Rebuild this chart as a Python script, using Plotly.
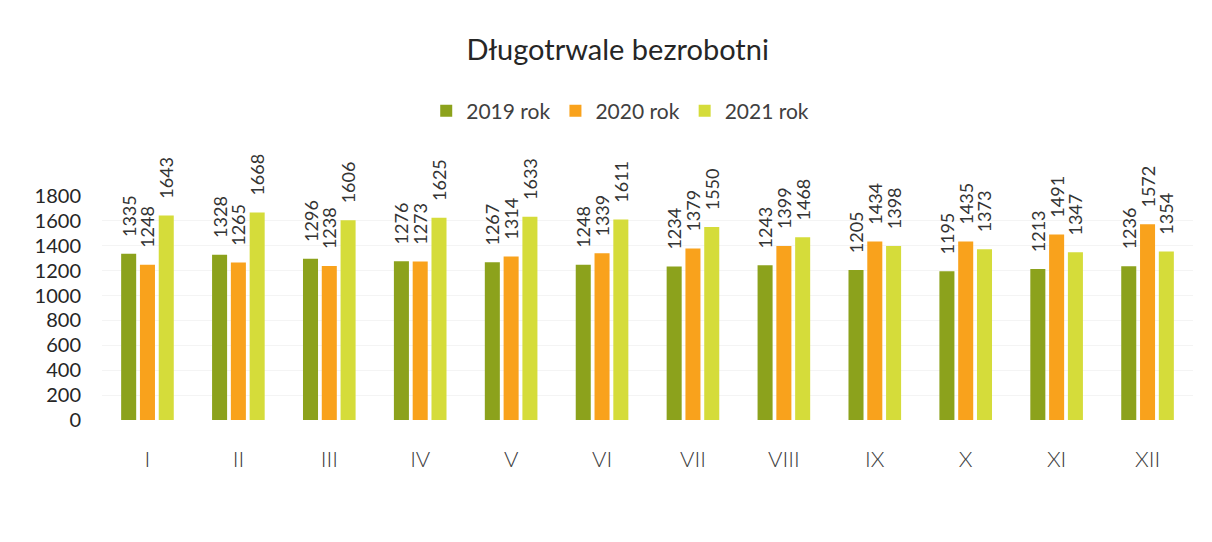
import plotly.graph_objects as go

months = ["I", "II", "III", "IV", "V", "VI", "VII", "VIII", "IX", "X", "XI", "XII"]
y2019 = [1335, 1328, 1296, 1276, 1267, 1248, 1234, 1243, 1205, 1195, 1213, 1236]
y2020 = [1248, 1265, 1238, 1273, 1314, 1339, 1379, 1399, 1434, 1435, 1491, 1572]
y2021 = [1643, 1668, 1606, 1625, 1633, 1611, 1550, 1468, 1398, 1373, 1347, 1354]

series = [
    ("2019 rok", y2019, "#8ca21c"),
    ("2020 rok", y2020, "#f9a21c"),
    ("2021 rok", y2021, "#d5dc3a"),
]

fig = go.Figure()
for name, vals, color in series:
    fig.add_trace(go.Bar(
        x=months, y=vals, name=name,
        marker=dict(color=color, line=dict(width=0)),
        text=vals, texttemplate="\u00a0\u00a0\u00a0%{y}",
        textposition="outside", textangle=-90,
        constraintext="none", cliponaxis=False,
        textfont=dict(size=18, color="#333333"),
    ))

# page body has an 8px margin, so positions are shifted by 8px
fig.update_layout(
    width=1212, height=542,
    paper_bgcolor="white", plot_bgcolor="white",
    font=dict(family="Lato, sans-serif", color="#404040"),
    title=dict(text="Długotrwale bezrobotni", x=0.503, xref="container", xanchor="center",
               y=1 - 42 / 542, yanchor="middle",
               font=dict(size=29, color="#262626")),
    legend=dict(orientation="h", x=0.475, xanchor="center", y=1.379, yanchor="middle",
                font=dict(size=21, color="#404040"), itemwidth=30),
    barmode="group", bargap=0.38, bargroupgap=0.2,
    margin=dict(l=94, r=27, t=188, b=130),
    showlegend=True,
)
fig.update_yaxes(range=[0, 1800], dtick=200, showgrid=True, gridcolor="#f4f4f4",
                 zeroline=False, showline=False, ticks="", automargin=False,
                 tickfont=dict(size=20, color="#262626"), ticklabelstandoff=20)
fig.update_xaxes(showline=False, ticks="", automargin=False,
                 tickfont=dict(size=22, color="#404040", weight=300),
                 ticklabelstandoff=24)

fig.write_html("out.html")
